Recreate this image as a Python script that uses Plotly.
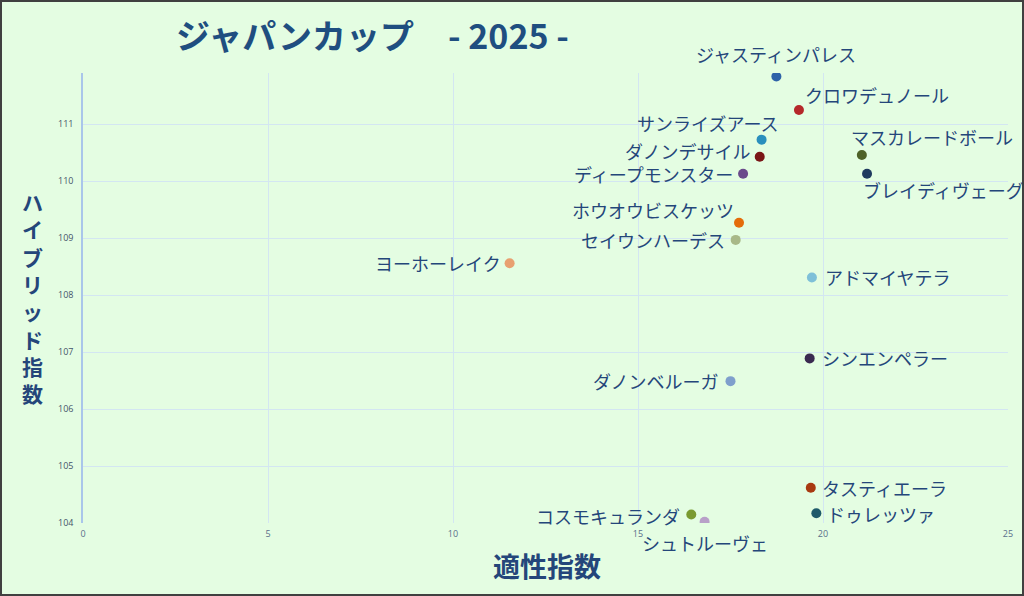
import plotly.graph_objects as go

# 出走馬データ (適性指数, ハイブリッド指数)
horses = [
    "ジャスティンパレス", "クロワデュノール", "サンライズアース", "ダノンデサイル",
    "ディープモンスター", "マスカレードボール", "ブレイディヴェーグ", "ホウオウビスケッツ",
    "セイウンハーデス", "ヨーホーレイク", "アドマイヤテラ", "シンエンペラー",
    "ダノンベルーガ", "タスティエーラ", "ドゥレッツァ", "コスモキュランダ", "シュトルーヴェ",
]
tekisei = [18.74, 19.35, 18.34, 18.29, 17.84, 21.05, 21.19, 17.73,
           17.64, 11.53, 19.70, 19.64, 17.50, 19.67, 19.82, 16.44, 16.80]
hybrid = [111.84, 111.25, 110.73, 110.43, 110.13, 110.46, 110.13, 109.27,
          108.97, 108.56, 108.31, 106.89, 106.49, 104.62, 104.17, 104.15, 104.02]
colors = ["#2e62a8", "#b5282a", "#2a8fbd", "#7a1616", "#6a4a8a", "#4f6228",
          "#1f3a5f", "#e46c0a", "#a8b888", "#e8a070", "#7ec0d8", "#3a2a50",
          "#7f9fcc", "#a83a10", "#1f5a6a", "#7a9a30", "#b8a0c8"]

x_ticks = [0, 5, 10, 15, 20, 25]
y_ticks = [104, 105, 106, 107, 108, 109, 110, 111]

# ラベル配置 (xanchor, xshift, yshift)
label_pos = [
    ("center", 0, 22), ("left", 4, 15), ("right", 18, 17), ("right", -8, 6),
    ("right", -8, 0), ("left", -13, 18), ("left", -6, -16), ("right", -3, 13),
    ("right", -9, 0), ("right", -7, 0), ("left", 11, 0), ("left", 10, 0),
    ("right", -11, 0), ("left", 9, 0), ("left", 9, -1), ("right", -9, -2),
    ("center", 0, -21),
]

W, H = 1024, 596
ML, MR, MT, MB = 83, 16, 73, 73
PW, PH = W - ML - MR, H - MT - MB
TEXT = "#24467a"
JP = "Noto Sans CJK JP"


def px(x):
    return (x - ML) / PW


def py(y):
    return 1 - (y - MT) / PH


fig = go.Figure()
fig.add_trace(go.Scatter(
    x=tekisei, y=hybrid, mode="markers",
    marker=dict(color=colors, size=10, line=dict(width=0)),
    hoverinfo="text", hovertext=horses, showlegend=False,
))

annotations = []
for name, xv, yv, (anc, dx, dy) in zip(horses, tekisei, hybrid, label_pos):
    annotations.append(dict(
        x=xv, y=yv, xref="x", yref="y", text=name, showarrow=False,
        xanchor=anc, yanchor="middle", xshift=dx, yshift=dy,
        font=dict(family=JP, size=18, color=TEXT),
    ))

# タイトル
annotations.append(dict(
    x=px(174), y=py(35), xref="paper", yref="paper", showarrow=False,
    xanchor="left", yanchor="middle",
    text="<b>ジャパンカップ　- 2025 -</b>",
    font=dict(family=JP, size=34, color="#1f4e80"),
))
# x軸タイトル
annotations.append(dict(
    x=px(547), y=py(565), xref="paper", yref="paper", showarrow=False,
    xanchor="center", yanchor="middle", text="<b>適性指数</b>",
    font=dict(family=JP, size=27, color=TEXT),
))
# y軸タイトル (縦書き)
annotations.append(dict(
    x=px(32), y=py(297), xref="paper", yref="paper",
    showarrow=False, xanchor="center", yanchor="middle",
    text="<br>".join("<b>" + ch + "</b>" for ch in "ハイブリッド指数"),
    font=dict(family=JP, size=21, color=TEXT),
))

fig.update_layout(
    width=W, height=H,
    margin=dict(l=ML, r=MR, t=MT, b=MB),
    paper_bgcolor="#e4fde2", plot_bgcolor="#e4fde2",
    annotations=annotations,
    shapes=[dict(
        type="rect", xref="paper", yref="paper",
        x0=px(1), x1=px(W - 1), y0=py(H - 1), y1=py(1),
        line=dict(color="#404040", width=2),
    )],
    xaxis=dict(
        range=[0, 25], tickvals=x_ticks, showgrid=True, gridcolor="#d3e6f2",
        gridwidth=1, zeroline=False, showline=False,
        tickfont=dict(family="Open Sans", size=9, color="#5a6f8a"),
        ticks="", ticklabelstandoff=4,
    ),
    yaxis=dict(
        range=[104, 111.9], tickvals=y_ticks, showgrid=True, gridcolor="#d3e6f2",
        gridwidth=1, zeroline=False, showline=True, linecolor="#a9c6ea",
        linewidth=1.5, tickfont=dict(family="Open Sans", size=9, color="#44546a"),
        ticks="", ticklabelstandoff=6,
    ),
)

fig.write_html("out.html", config={"displayModeBar": False},
               post_script="document.body.style.margin='0';")
